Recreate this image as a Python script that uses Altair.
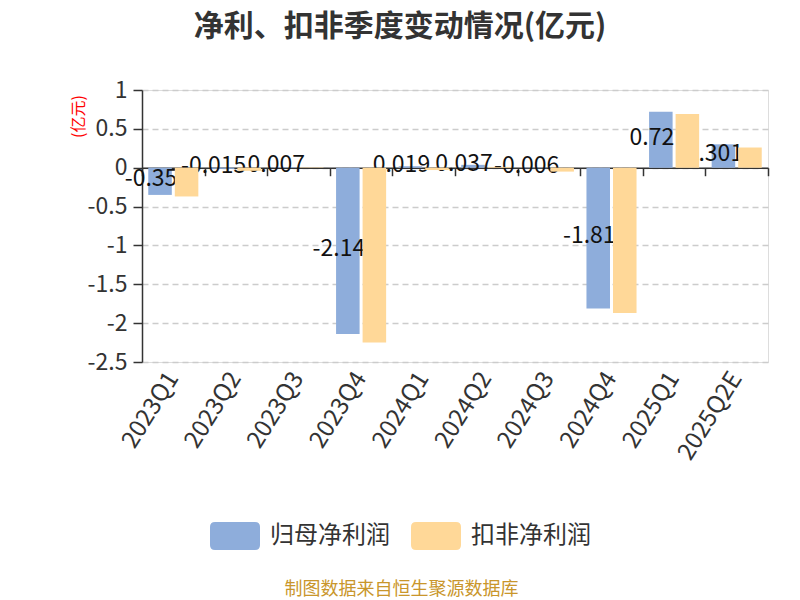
import altair as alt
import pandas as pd

quarters = ["2023Q1", "2023Q2", "2023Q3", "2023Q4", "2024Q1", "2024Q2",
            "2024Q3", "2024Q4", "2025Q1", "2025Q2E"]
guimu = [-0.35, -0.015, 0.007, -2.14, 0.019, 0.037, -0.006, -1.81, 0.72, 0.301]
koufei = [-0.37, -0.04, 0.005, -2.25, -0.03, 0.01, -0.05, -1.87, 0.69, 0.26]
series = ["归母净利润", "扣非净利润"]
colors = ["#8eaddb", "#ffd898"]

rows = []
for q, a, b in zip(quarters, guimu, koufei):
    rows.append({"quarter": q, "series": series[0], "value": a, "label": str(a)})
    rows.append({"quarter": q, "series": series[1], "value": b, "label": str(b)})
df = pd.DataFrame(rows)

FONT = "Noto Sans CJK SC"
W, H = 626, 272
ymin, ymax = -2.5, 1.0
zero_offset = -(H * (0 - ymin) / (ymax - ymin))

x_scale = alt.Scale(domain=quarters, paddingInner=0, paddingOuter=0)
xo_scale = alt.Scale(domain=series, paddingInner=0.113, paddingOuter=0.236)
y_scale = alt.Scale(domain=[ymin, ymax], nice=False, zero=False)
color_scale = alt.Scale(domain=series, range=colors)

rr = ("M-0.8,-0.56 L0.8,-0.56 Q1,-0.56 1,-0.36 L1,0.36 Q1,0.56 0.8,0.56 "
      "L-0.8,0.56 Q-1,0.56 -1,0.36 L-1,-0.36 Q-1,-0.56 -0.8,-0.56 Z")

base = alt.Chart(df)

y_axis = alt.Axis(
    values=[1, 0.5, 0, -0.5, -1, -1.5, -2, -2.5],
    labelExpr="'' + datum.value", labelOverlap=False,
    labelFont=FONT, labelFontSize=23, labelColor="#333",
    labelPadding=6,
    tickSize=9, tickColor="#333", tickWidth=1.5,
    domainColor="#333", domainWidth=1.5,
    grid=True, gridDash=[6, 4], gridColor="#cccccc", gridWidth=1.5,
    title="(亿元)", titleColor="red", titleFont=FONT, titleFontSize=16,
    titleFontWeight="normal", titleAngle=-90, titleX=-64, titleY=26,
    titleAlign="center", titleBaseline="middle",
)

x_axis_labels = alt.Axis(
    orient="bottom", domain=False, ticks=False, grid=False,
    labelAngle=-58, labelAlign="right", labelBaseline="middle",
    labelOverlap=False,
    labelFont=FONT, labelFontSize=24, labelColor="#333", labelPadding=12,
    title="制图数据来自恒生聚源数据库", titleFont=FONT, titleFontSize=18,
    titleFontWeight="normal", titleColor="#c9962b",
    titleX=259, titleY=227, titleAlign="center", titleBaseline="middle",
)

x_axis_zero = alt.Axis(
    orient="bottom", offset=zero_offset, labels=False, grid=False,
    domainColor="#333", domainWidth=1.5, tickColor="#333", tickWidth=1.5,
    tickSize=8, tickBand="extent", title=None,
)

Y = alt.Y("value:Q", scale=y_scale, axis=y_axis, title="(亿元)")

bars_blue = base.transform_filter(alt.datum.series == series[0]).mark_bar().encode(
    x=alt.X("quarter:N", scale=x_scale, sort=quarters, axis=x_axis_labels),
    xOffset=alt.XOffset("series:N", scale=xo_scale, sort=series),
    y=Y,
    color=alt.Color("series:N", scale=color_scale, sort=series,
                    legend=alt.Legend(
                        orient="none", legendX=68, legendY=421,
                        direction="horizontal", title=None,
                        symbolType=rr, symbolSize=2500, symbolStrokeWidth=0,
                        symbolOpacity=1,
                        labelFont=FONT, labelFontSize=24, labelColor="#333",
                        labelOffset=10, columnPadding=21,
                    )),
)

labels = base.transform_filter(alt.datum.series == series[0]).mark_text(
    font=FONT, fontSize=23, color="#111", align="center",
    baseline="middle", dx=-9, dy=-2).encode(
    x=alt.X("quarter:N", scale=x_scale, sort=quarters, axis=None),
    xOffset=alt.XOffset("series:N", scale=xo_scale, sort=series),
    y=Y,
    text="label:N",
).transform_calculate(value="datum.value / 2")

bars_orange = base.transform_filter(alt.datum.series == series[1]).mark_bar().encode(
    x=alt.X("quarter:N", scale=x_scale, sort=quarters, axis=None),
    xOffset=alt.XOffset("series:N", scale=xo_scale, sort=series),
    y=Y,
    color=alt.Color("series:N", scale=color_scale, sort=series),
)

zero_axis = base.mark_bar(opacity=0).encode(
    x=alt.X("quarter:N", scale=x_scale, sort=quarters, axis=x_axis_zero),
    y=Y,
)

chart = alt.layer(zero_axis, bars_blue, labels, bars_orange).resolve_axis(
    x="independent"
).properties(
    width=W, height=H,
    title=alt.TitleParams(
        "净利、扣非季度变动情况(亿元)", font=FONT, fontSize=30,
        fontWeight="bold", color="#333", anchor="middle", dx=-55, offset=16,
    ),
    padding={"left": 134, "top": 82, "right": 24, "bottom": 236},
    autosize=alt.AutoSizeParams(type="none"),
).configure_view(strokeWidth=0, stroke="transparent").configure(background="white")

chart.save("out.html", embed_options={"renderer": "svg", "actions": False})
